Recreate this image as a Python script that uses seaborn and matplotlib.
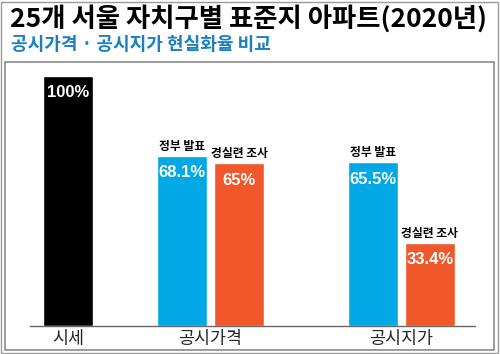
#!/usr/bin/env python

import pandas as pd
import seaborn as sns
import matplotlib.pyplot as plt
from matplotlib.patches import Rectangle

# data
categories = ["시세", "공시가격", "공시가격", "공시지가", "공시지가"]
sources = ["시세", "정부 발표", "경실련 조사", "정부 발표", "경실련 조사"]
rates = [100, 68.1, 65, 65.5, 33.4]
value_labels = ["100%", "68.1%", "65%", "65.5%", "33.4%"]
group_labels = ["시세", "공시가격", "공시지가"]

title = "25개 서울 자치구별 표준지 아파트(2020년)"
subtitle = "공시가격 · 공시지가 현실화율 비교"

colors = {"시세": "#000000", "정부 발표": "#00a8e6", "경실련 조사": "#f0582b"}


def build_frame():
    df = pd.DataFrame({"category": categories, "source": sources, "rate": rates,
                       "label": value_labels})
    # horizontal layout: group centres and offset of the two bars in a group
    centers = {"시세": 0.0, "공시가격": 2.5, "공시지가": 5.85}
    offsets = []
    for cat, src in zip(df["category"], df["source"]):
        if src == "정부 발표":
            offsets.append(centers[cat] - 0.5)
        elif src == "경실련 조사":
            offsets.append(centers[cat] + 0.5)
        else:
            offsets.append(centers[cat])
    df["pos"] = offsets
    return df, centers


def create_plot(df, centers):
    sns.set_style("white")
    plt.rcParams["font.family"] = ["Noto Sans CJK KR", "DejaVu Sans"]

    fig = plt.figure(figsize=(5.0, 3.54), dpi=100)
    W, H = 500, 354

    # outer and inner frames
    fig.patches.append(Rectangle((1 / W, 1 / H), 497 / W, 351 / H, transform=fig.transFigure,
                                 fill=False, edgecolor="#9a9a9a", lw=1))
    fig.patches.append(Rectangle((5 / W, 4 / H), 489 / W, 288 / H, transform=fig.transFigure,
                                 fill=False, edgecolor="#8a8a8a", lw=1.2))

    ax = fig.add_axes([30 / W, 28 / H, 445 / W, 262.5 / H])
    ax.patch.set_alpha(0)
    sns.barplot(data=df, x="pos", y="rate", hue="source", palette=colors,
                native_scale=True, dodge=False, width=50 / 57, errorbar=None,
                legend=False, saturation=1, ax=ax)

    ax.set_xlim(-0.667, 7.14)
    ax.set_ylim(0, 105)

    for _, row in df.iterrows():
        ax.text(row["pos"], row["rate"] - 6.8, row["label"], ha="center", va="center",
                color="white", fontsize=12, fontweight="bold",
                family=["Liberation Sans", "DejaVu Sans"])
        if row["source"] != "시세":
            ax.text(row["pos"], row["rate"] + 1.2, row["source"], ha="center", va="bottom",
                    color="black", fontsize=8.5, fontweight="bold")

    ax.set_xticks([centers[g] for g in group_labels], group_labels, fontsize=12.5,
                  fontweight="medium")
    ax.tick_params(axis="x", length=0, pad=3)
    ax.set_yticks([])
    ax.set_xlabel("")
    ax.set_ylabel("")
    for side in ["top", "left", "right"]:
        ax.spines[side].set_visible(False)
    ax.spines["bottom"].set_color("#666666")
    ax.spines["bottom"].set_linewidth(1)

    fig.text(10 / W, 1 - 5 / H, title, ha="left", va="top", fontsize=19,
             fontweight="heavy", color="black")
    fig.text(11 / W, 1 - 35 / H, subtitle, ha="left", va="top", fontsize=13,
             fontweight="bold", color="#1c80bf")

    plt.savefig("out.png", dpi=100)
    plt.close()


def main():
    df, centers = build_frame()
    create_plot(df, centers)


if __name__ == '__main__':
    main()
